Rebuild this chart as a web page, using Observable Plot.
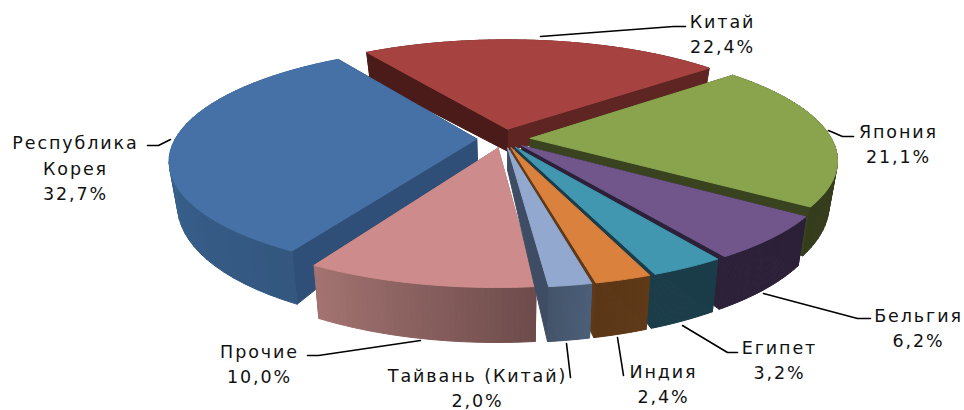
<!DOCTYPE html>
<html><head><meta charset="utf-8">
<script src="https://cdn.jsdelivr.net/npm/d3@7"></script>
<script src="https://cdn.jsdelivr.net/npm/@observablehq/plot@0.6"></script>
<style>html,body{margin:0;padding:0;background:#fff}svg{display:block}</style>
</head><body><div id="chart"></div>
<script>
// Data, in pie order (clockwise from the start of Китай)
const names  = ["Китай","Япония","Бельгия","Египет","Индия","Тайвань (Китай)","Прочие","Республика\nКорея"];
const shares = [22.4,21.1,6.2,3.2,2.4,2.0,10.0,32.7];
const topColors  = ["#a64341","#8aa44e","#71568c","#4196b0","#d9813d","#93a8cf","#cd8c8b","#4671a6"];
const sideLeft   = ["#5f2523","#3b441f","#2c2139","#1b3c49","#603a18","#4d6079","#a37471","#3f6c9f"];
const sideRight  = ["#5f2523","#343c1c","#2c2139","#1b3c49","#5a3617","#43536a","#6d4b4b","#33577f"];
const wallStart  = ["#4a1b18","#343c1c","#2c2139","#1b3c49","#603a18","#3e4d63","#8c5f5e","#2f4f78"];
const wallEnd    = ["#5f2523","#3a431f","#2c2139","#1b3c49","#603a18","#3e4d63","#8c5f5e","#2f4f78"];
const drawOrder  = [0,1,7,6,2,3,4,5];

// Label layout
const labelX = [722,898,918,779,663,477,259,75];
const labelY = [32,142,326,358,382,386,362,166];
const leaders = [
  [[540,36],[673,26],[685,26]],
  [[828,130],[842,136],[853,136]],
  [[763,293],[857,318],[870,318]],
  [[682,325],[727,352],[737,352]],
  [[617,337],[623,375]],
  [[566,343],[570,377]],
  [[420,340],[318,355],[307,355]],
  [[170,139],[158,145],[147,145]]
];

// 3D view of the pie
const startDeg = -30.6, cx = 503, cy = 138, Rx = 298, Ry = 107, persp = 0.224, explode = 0.09;
const project = (u, v) => {
  const w = 1/(1 - persp*v);
  const lift = 5*Math.min(1, u*u + v*v);
  return [cx + Rx*u*w, cy - lift + Ry*v*w];
};
// the view bends the slice edges by a few degrees around the pie
const warpDeg = d3.scaleLinear()
  .domain([-30.6, 50.6, 126.6, 149, 170, 176, 212, 329.4])
  .range([-3.9, 1.8, 0.6, -0.3, -0.7, -1.5, -3, -3.9]);
const warp = d => (d + warpDeg(d))*Math.PI/180;

const faces = [];
let faceId = 0;
const addFace = (pts, color) => {
  const id = faceId++;
  for (const [x,y] of [...pts, pts[0]]) faces.push({x, y, id, color});
};

let acc = startDeg;
const spans = shares.map(s => { const a0 = acc; acc += s*3.6; return [a0, acc]; });

for (const i of drawOrder) {
  const [a0, a1] = spans[i].map(warp);
  const mid = (a0+a1)/2;
  const ou = explode*Math.sin(mid), ov = -explode*Math.cos(mid);
  const topP = (r, a) => project(ou + r*Math.sin(a), ov - r*Math.cos(a));
  const botP = (r, a) => {
    const lv = -r*Math.cos(a);
    const [x,y] = topP(r, a);
    const h = 22 + 18*r*r + 15*lv;
    return [cx + (x-cx)*0.975, y + h];
  };
  const arc = d3.range(0, 41).map(k => a0 + (a1-a0)*k/40);
  const startWall = () => addFace([topP(0,a0), topP(1,a0), botP(1,a0), botP(0,a0)], wallStart[i]);
  const endWall = () => addFace([topP(0,a1), topP(1,a1), botP(1,a1), botP(0,a1)], wallEnd[i]);
  // outer rim, as thin strips shading across the slice
  const rim = () => {
    const shade = d3.interpolateRgb(sideLeft[i], sideRight[i]);
    for (let k = 0; k < 40; k++) {
      const t = i >= 6 ? 1 - (k+0.5)/40 : (k+0.5)/40;
      addFace([topP(1,arc[k]), topP(1,arc[k+1]), botP(1,arc[k+1]), botP(1,arc[k])], shade(t));
    }
  };
  // the rearmost slice shows both walls in front of its hidden rim
  if (i === 0) { rim(); endWall(); startWall(); }
  else { startWall(); endWall(); rim(); }
  // top
  addFace([topP(0,a0), ...arc.map(a => topP(1,a))], topColors[i]);
}

const leaderRows = leaders.flatMap((pts, i) => pts.map(([x,y]) => ({x, y, i})));
const labels = names.map((n, i) => ({
  x: labelX[i], y: labelY[i],
  text: `${n}\n${shares[i].toFixed(1).replace(".", ",")}%`
}));

const chart = Plot.plot({
  width: 964, height: 410,
  margin: 0,
  x: {domain: [0, 964], range: [0, 964], axis: null},
  y: {domain: [0, 410], range: [0, 410], axis: null},
  color: {type: "identity"},
  style: {background: "#fff", letterSpacing: "1.9px"},
  marks: [
    Plot.line(faces, {x: "x", y: "y", z: "id", fill: "color", stroke: "color", strokeWidth: 1, curve: "linear"}),
    Plot.line(leaderRows, {x: "x", y: "y", z: "i", stroke: "#000", strokeWidth: 1.6, curve: "linear"}),
    Plot.text(labels, {x: "x", y: "y", text: "text", textAnchor: "middle", lineAnchor: "middle", lineHeight: 1.45,
      fontFamily: "DejaVu Sans", fontSize: 17.5, fill: "#111"})
  ]
});
document.getElementById("chart").append(chart);
</script></body></html>
